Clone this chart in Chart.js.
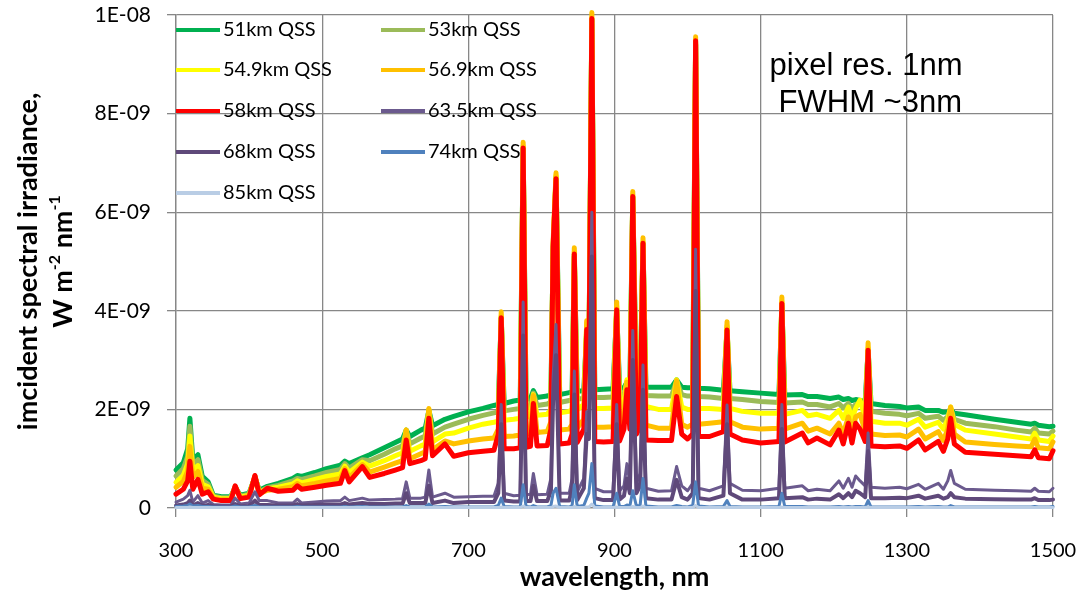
<!DOCTYPE html>
<html>
<head>
<meta charset="utf-8">
<script src="https://cdn.jsdelivr.net/npm/chart.js@4/dist/chart.umd.min.js"></script>
<style>
  html, body { margin: 0; background: #fff; }
  #wrap { width: 1080px; height: 593px; }
</style>
</head>
<body>
<div id="wrap"><canvas id="chart" width="1080" height="593"></canvas></div>
<script>
// wavelength grid, nm
const wavelengths = [
  300, 310, 316, 319, 323, 330, 336, 344, 351, 362,
  375, 381, 388, 400, 408, 414, 425, 440, 460, 466,
  472, 490, 506, 525, 531, 537, 555, 565, 585, 600,
  610, 615, 620, 635, 641, 646, 651, 668, 680, 700,
  720, 735, 741, 745, 749, 762, 771, 775, 779, 785,
  789, 794, 808, 813, 816, 820, 825, 838, 842, 845,
  849, 858, 862, 865, 869, 873, 885, 898, 903, 907,
  913, 917, 921, 925, 930, 935, 939, 943, 960, 978,
  985, 992, 1000, 1007, 1011, 1015, 1030, 1049, 1054, 1058,
  1075, 1100, 1125, 1129, 1133, 1157, 1165, 1177, 1195, 1207,
  1213, 1220, 1225, 1230, 1236, 1243, 1247, 1251, 1270, 1290,
  1300, 1316, 1325, 1343, 1350, 1356, 1360, 1365, 1380, 1420,
  1450, 1470, 1475, 1480, 1495, 1500
];

// irradiance, in units of 1E-09 W m-2 nm-1
const irr51 = [
  .77, .92, 1.2, 1.82, .98, 1.08, .64, .53, .26, .23,
  .23, .42, .26, .3, .62, .36, .44, .5, .6, .66,
  .64, .72, .8, .87, .95, .9, 1.02, 1.08, 1.22, 1.33,
  1.4, 1.58, 1.45, 1.58, 1.62, 1.98, 1.67, 1.8, 1.86, 1.95,
  2.02, 2.08, 2.1, 3.85, 2.12, 2.17, 2.19, 7.3, 2.2, 2.22,
  2.38, 2.24, 2.27, 2.3, 5.2, 6.7, 2.3, 2.34, 2.36, 5.1,
  2.37, 2.38, 3.6, 3.0, 9.9, 2.4, 2.41, 2.42, 4.0, 2.43,
  2.44, 2.55, 2.45, 6.3, 2.45, 2.45, 5.35, 2.45, 2.45, 2.45,
  2.6, 2.45, 2.44, 2.44, 9.4, 2.43, 2.42, 2.39, 3.6, 2.38,
  2.36, 2.33, 2.3, 4.1, 2.29, 2.3, 2.26, 2.26, 2.22, 2.25,
  2.2, 2.22, 2.18, 2.2, 2.18, 2.15, 3.2, 2.12, 2.08, 2.06,
  2.03, 2.05, 1.98, 1.98, 1.94, 1.95, 2.0, 1.92, 1.89, 1.8,
  1.74, 1.7, 1.72, 1.68, 1.65, 1.66
];
const irr53 = [
  .65, .8, 1.05, 1.66, .88, .98, .56, .48, .24, .21,
  .21, .42, .24, .28, .63, .33, .41, .46, .55, .6,
  .58, .65, .72, .78, .9, .81, .98, .96, 1.09, 1.2,
  1.26, 1.58, 1.3, 1.42, 1.46, 1.99, 1.5, 1.64, 1.7, 1.8,
  1.88, 1.93, 1.95, 3.88, 1.97, 2.0, 2.02, 7.32, 2.04, 2.06,
  2.33, 2.08, 2.11, 2.15, 5.25, 6.72, 2.14, 2.18, 2.2, 5.15,
  2.21, 2.22, 3.65, 3.0, 9.92, 2.24, 2.24, 2.25, 4.05, 2.26,
  2.3, 2.57, 2.3, 6.32, 2.28, 2.3, 5.38, 2.28, 2.27, 2.27,
  2.58, 2.3, 2.27, 2.27, 9.42, 2.26, 2.25, 2.22, 3.65, 2.22,
  2.2, 2.16, 2.14, 4.15, 2.13, 2.15, 2.1, 2.1, 2.05, 2.12,
  2.03, 2.12, 2.02, 2.1, 2.12, 2.0, 3.22, 1.96, 1.92, 1.9,
  1.87, 1.92, 1.82, 1.86, 1.78, 1.85, 2.02, 1.8, 1.72, 1.65,
  1.58, 1.54, 1.62, 1.52, 1.5, 1.56
];
const irr549 = [
  .52, .66, .9, 1.46, .76, .86, .48, .43, .22, .19,
  .19, .43, .22, .26, .64, .31, .39, .42, .49, .55,
  .51, .58, .64, .69, .85, .72, .93, .85, .96, 1.06,
  1.12, 1.58, 1.15, 1.26, 1.3, 2.0, 1.34, 1.5, 1.52, 1.62,
  1.7, 1.74, 1.76, 3.9, 1.78, 1.8, 1.82, 7.35, 1.84, 1.86,
  2.3, 1.88, 1.9, 2.0, 5.3, 6.75, 1.93, 1.96, 2.0, 5.2,
  1.99, 2.1, 3.75, 3.0, 9.95, 2.02, 2.02, 2.03, 4.1, 2.04,
  2.15, 2.6, 2.1, 6.35, 2.08, 2.15, 5.4, 2.06, 2.0, 2.0,
  2.6, 2.05, 2.0, 2.0, 9.45, 2.02, 2.02, 2.0, 3.7, 2.02,
  1.96, 1.92, 1.92, 4.2, 1.9, 1.98, 1.87, 1.9, 1.82, 1.98,
  1.82, 2.05, 1.82, 2.02, 2.19, 1.82, 3.25, 1.76, 1.72, 1.72,
  1.68, 1.8, 1.64, 1.74, 1.6, 1.8, 2.05, 1.7, 1.58, 1.5,
  1.44, 1.4, 1.52, 1.38, 1.35, 1.46
];
const irr569 = [
  .42, .54, .75, 1.25, .62, .74, .4, .38, .2, .17,
  .17, .44, .2, .24, .65, .29, .36, .38, .43, .5,
  .45, .5, .55, .6, .8, .62, .88, .73, .83, .91,
  .96, 1.58, 1.0, 1.1, 1.14, 2.02, 1.18, 1.36, 1.3, 1.36,
  1.4, 1.42, 1.6, 3.98, 1.45, 1.46, 1.48, 7.42, 1.5, 1.52,
  2.28, 1.53, 1.55, 1.75, 5.4, 6.8, 1.58, 1.6, 1.7, 5.28,
  1.62, 1.8, 3.8, 3.0, 10.05, 1.64, 1.64, 1.65, 4.18, 1.66,
  1.9, 2.55, 1.8, 6.42, 1.75, 1.9, 5.48, 1.68, 1.62, 1.62,
  2.58, 1.7, 1.64, 1.7, 9.56, 1.7, 1.72, 1.75, 3.78, 1.75,
  1.64, 1.6, 1.62, 4.28, 1.6, 1.72, 1.56, 1.62, 1.5, 1.72,
  1.5, 1.85, 1.52, 1.85, 1.9, 1.55, 3.35, 1.5, 1.47, 1.48,
  1.44, 1.6, 1.4, 1.55, 1.37, 1.6, 2.05, 1.5, 1.34, 1.29,
  1.26, 1.24, 1.4, 1.22, 1.2, 1.34
];
const irr58 = [
  .28, .38, .55, .95, .38, .58, .28, .33, .18, .15,
  .15, .45, .19, .22, .66, .27, .4, .34, .36, .45,
  .38, .42, .46, .5, .76, .53, .84, .62, .7, .77,
  .82, 1.38, .9, .96, 1.0, 1.82, 1.06, 1.3, 1.05, 1.12,
  1.15, 1.17, 1.5, 3.86, 1.2, 1.2, 1.22, 7.3, 1.23, 1.25,
  2.12, 1.26, 1.27, 1.6, 5.3, 6.68, 1.3, 1.32, 1.5, 5.15,
  1.33, 1.6, 3.62, 2.8, 9.93, 1.35, 1.34, 1.35, 4.02, 1.36,
  1.6, 2.4, 1.6, 6.32, 1.5, 1.65, 5.37, 1.38, 1.37, 1.37,
  2.26, 1.5, 1.4, 1.5, 9.48, 1.45, 1.45, 1.55, 3.61, 1.5,
  1.38, 1.32, 1.35, 4.15, 1.34, 1.52, 1.32, 1.42, 1.28, 1.58,
  1.3, 1.72, 1.32, 1.72, 1.6, 1.35, 3.2, 1.26, 1.24, 1.26,
  1.21, 1.38, 1.18, 1.35, 1.15, 1.4, 1.82, 1.3, 1.13, 1.09,
  1.06, 1.04, 1.18, 1.02, 1.0, 1.16
];
const irr635 = [
  .12, .18, .25, .36, .12, .25, .1, .15, .07, .06,
  .06, .2, .08, .1, .33, .15, .15, .1, .1, .18,
  .1, .12, .14, .15, .22, .15, .2, .16, .17, .18,
  .19, .53, .2, .2, .22, .77, .22, .3, .22, .23,
  .24, .24, .5, 2.1, .3, .25, .26, 4.18, .28, .27,
  .7, .27, .28, .6, 2.66, 3.72, .3, .3, .6, 2.78,
  .32, .6, 1.95, 1.8, 6.0, .4, .33, .33, 2.1, .35,
  .45, .9, .5, 3.6, .5, .7, 2.9, .4, .34, .35,
  .84, .45, .35, .5, 5.25, .4, .35, .45, 2.09, .5,
  .36, .35, .4, 2.1, .4, .45, .35, .38, .35, .55,
  .4, .6, .42, .65, .55, .45, 1.52, .42, .4, .42,
  .39, .48, .38, .5, .38, .55, .76, .5, .38, .36,
  .35, .34, .4, .34, .33, .4
];
const irr68 = [
  .05, .07, .1, .15, .05, .1, .04, .06, .03, .03,
  .03, .08, .03, .04, .15, .06, .06, .05, .05, .08,
  .05, .06, .07, .07, .1, .07, .1, .08, .08, .09,
  .09, .3, .1, .1, .1, .45, .1, .15, .1, .12,
  .12, .12, .3, 1.7, .15, .13, .13, 3.5, .14, .14,
  .45, .14, .14, .35, 2.2, 3.1, .15, .15, .4, 2.3,
  .16, .4, 1.5, 1.4, 5.1, .2, .16, .16, 1.7, .17,
  .25, .6, .3, 3.0, .3, .45, 2.4, .2, .17, .17,
  .57, .22, .17, .3, 4.4, .2, .17, .25, 1.7, .3,
  .17, .17, .2, 1.6, .2, .22, .17, .19, .17, .28,
  .2, .3, .22, .35, .3, .22, 1.15, .2, .2, .21,
  .2, .25, .19, .25, .19, .22, .3, .22, .19, .18,
  .17, .17, .2, .16, .16, .17
];
const irr74 = [
  .03, .04, .05, .08, .04, .05, .03, .03, .02, .02,
  .02, .04, .02, .02, .05, .02, .02, .02, .02, .03,
  .02, .02, .02, .02, .03, .02, .03, .02, .02, .02,
  .02, .05, .02, .02, .02, .08, .02, .03, .02, .02,
  .02, .02, .05, .2, .03, .02, .02, .47, .03, .02,
  .05, .02, .02, .05, .3, .4, .03, .02, .05, .47,
  .03, .05, .2, .3, .9, .04, .02, .02, .3, .03,
  .03, .06, .04, .35, .04, .05, .6, .04, .02, .02,
  .05, .03, .02, .05, .53, .04, .02, .03, .15, .03,
  .02, .02, .03, .3, .03, .03, .02, .02, .02, .03,
  .02, .03, .02, .03, .03, .02, .15, .02, .02, .02,
  .02, .03, .02, .03, .02, .02, .05, .02, .02, .02,
  .02, .02, .03, .02, .02, .03
];
const irr85 = [
  .01, .01, .01, .02, .01, .01, .01, .01, .01, .01,
  .01, .01, .01, .01, .01, .01, .01, .01, .01, .01,
  .01, .01, .01, .01, .01, .01, .01, .01, .01, .01,
  .01, .01, .01, .01, .01, .01, .01, .01, .01, .01,
  .01, .01, .01, .02, .01, .01, .01, .04, .01, .01,
  .01, .01, .01, .01, .03, .04, .01, .01, .01, .03,
  .01, .01, .02, .02, .08, .01, .01, .01, .02, .01,
  .01, .01, .01, .03, .01, .01, .04, .01, .01, .01,
  .01, .01, .01, .01, .05, .01, .01, .01, .02, .01,
  .01, .01, .01, .02, .01, .01, .01, .01, .01, .01,
  .01, .01, .01, .01, .01, .01, .02, .01, .01, .01,
  .01, .01, .01, .01, .01, .01, .01, .01, .01, .01,
  .01, .01, .01, .01, .01, .01
];

const seriesNames = ["51km QSS", "53km QSS", "54.9km QSS", "56.9km QSS", "58km QSS",
                     "63.5km QSS", "68km QSS", "74km QSS", "85km QSS"];
const seriesValues = [irr51, irr53, irr549, irr569, irr58, irr635, irr68, irr74, irr85];
const seriesColors = ["#00b050", "#9bbb59", "#ffff00", "#ffc000", "#ff0000",
                      "#6b5a8e", "#5f497a", "#4f81bd", "#b9cde5"];
const seriesWidths = [5, 5, 5, 5, 5, 3, 4, 3, 3];

const xTicks = [300, 500, 700, 900, 1100, 1300, 1500];
const yTicks = [0, 2e-9, 4e-9, 6e-9, 8e-9, 1e-8];
const yTickLabels = ["0", "2E-09", "4E-09", "6E-09", "8E-09", "1E-08"];
const xTitle = "wavelength, nm";
const yTitle = "imcident spectral irradiance,";
const noteLines = ["pixel res. 1nm", " FWHM ~3nm"];

const GRID = "#878787";
const FONT = "Lato, 'DejaVu Sans', sans-serif";

const datasets = seriesNames.map((name, i) => ({
  label: name,
  data: wavelengths.map((w, k) => ({ x: w, y: seriesValues[i][k] * 1e-9 })),
  borderColor: seriesColors[i],
  backgroundColor: seriesColors[i],
  borderWidth: seriesWidths[i],
  borderJoinStyle: "round",
  borderCapStyle: "round",
  pointRadius: 0,
  tension: 0,
  fill: false,
  clip: 5,
  order: seriesNames.length - 1 - i   // later series painted on top, like the original
}));

// titles, legend and the note are drawn by hand to sit where the original has them
const decorPlugin = {
  id: "decor",
  afterDraw(chart) {
    const { ctx, chartArea } = chart;
    ctx.save();
    ctx.fillStyle = "#000";

    // x title
    ctx.font = "bold 27px " + FONT;
    ctx.textAlign = "center";
    ctx.textBaseline = "middle";
    ctx.fillText(xTitle, (chartArea.left + chartArea.right) / 2, 577);

    // y title, two rotated lines
    const midY = (chartArea.top + chartArea.bottom) / 2;
    ctx.save();
    ctx.translate(28, midY);
    ctx.rotate(-Math.PI / 2);
    ctx.fillText(yTitle, 0, 0);
    ctx.restore();

    ctx.save();
    ctx.translate(63, midY);
    ctx.rotate(-Math.PI / 2);
    const runs = [["W m", false], ["-2", true], [" nm", false], ["-1", true]];
    const big = "bold 27px " + FONT, small = "bold 16px " + FONT;
    let total = 0;
    runs.forEach(([t, sup]) => { ctx.font = sup ? small : big; total += ctx.measureText(t).width; });
    let px = -total / 2;
    ctx.textAlign = "left";
    runs.forEach(([t, sup]) => {
      ctx.font = sup ? small : big;
      ctx.fillText(t, px, sup ? -8 : 0);
      px += ctx.measureText(t).width;
    });
    ctx.restore();

    // legend, two columns inside the plot
    const colX = [176, 381];
    const rowY = [30, 70, 111, 152, 193];
    ctx.font = "20px " + FONT;
    ctx.textAlign = "left";
    ctx.textBaseline = "middle";
    seriesNames.forEach((name, i) => {
      const x = colX[i % 2], y = rowY[Math.floor(i / 2)];
      ctx.strokeStyle = seriesColors[i];
      ctx.lineWidth = 4;
      ctx.beginPath();
      ctx.moveTo(x, y);
      ctx.lineTo(x + 44, y);
      ctx.stroke();
      ctx.fillStyle = "#000";
      ctx.fillText(name, x + 47, y);
    });

    // note
    ctx.font = "31px 'Liberation Sans', Arial, sans-serif";
    ctx.textAlign = "center";
    ctx.textBaseline = "alphabetic";
    ctx.fillText(noteLines[0], 866, 75);
    ctx.fillText(noteLines[1], 866, 112);

    ctx.restore();
  }
};

// drop the label overhang padding so the plot area lands where the original has it
function noOverhang(s) {
  s.paddingTop = 0;
  s.paddingBottom = 0;
  s.paddingLeft = 0;
  s.paddingRight = 0;
}

new Chart(document.getElementById("chart"), {
  type: "line",
  data: { datasets },
  plugins: [decorPlugin],
  options: {
    responsive: false,
    animation: false,
    events: [],
    layout: { padding: { left: 0, right: 27, top: 15, bottom: 0 } },
    plugins: { legend: { display: false }, tooltip: { enabled: false } },
    scales: {
      x: {
        type: "linear",
        min: 300,
        max: 1500,
        afterBuildTicks: (s) => { s.ticks = xTicks.map((v) => ({ value: v })); },
        afterFit: (s) => { s.height = 85; noOverhang(s); },
        grid: { color: GRID, lineWidth: 1.3, tickLength: 9, drawTicks: true },
        border: { color: GRID, width: 1.3 },
        ticks: {
          color: "#000",
          font: { family: FONT, size: 20 },
          padding: 22,
          maxRotation: 0,
          callback: (v) => String(v)
        }
      },
      y: {
        type: "linear",
        min: 0,
        max: 1e-8,
        afterBuildTicks: (s) => { s.ticks = yTicks.map((v) => ({ value: v })); },
        afterFit: (s) => { s.width = 176; noOverhang(s); },
        grid: { color: GRID, lineWidth: 1.3, tickLength: 9, drawTicks: true },
        border: { color: GRID, width: 1.3 },
        ticks: {
          color: "#000",
          font: { family: FONT, size: 21 },
          padding: 16,
          callback: (v, i) => yTickLabels[i]
        }
      }
    }
  }
});
</script>
</body>
</html>
